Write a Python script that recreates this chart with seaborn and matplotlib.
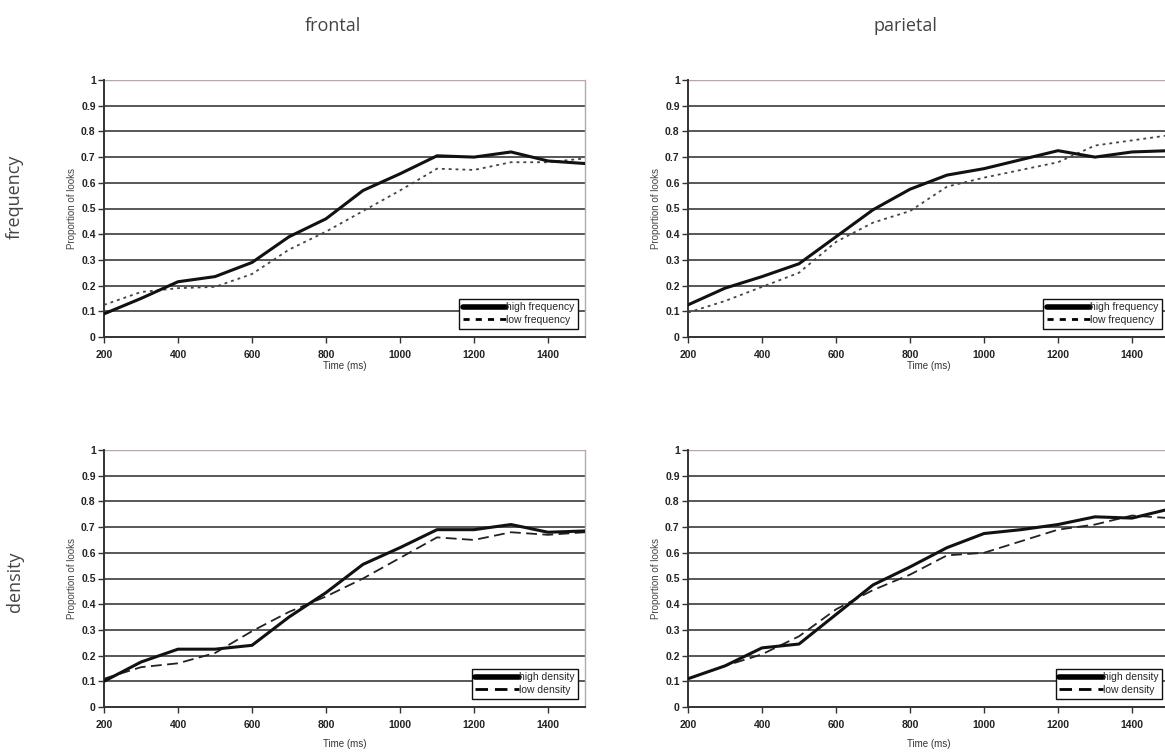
import numpy as np
import pandas as pd
import matplotlib
matplotlib.use("Agg")
import matplotlib.pyplot as plt
import seaborn as sns
from matplotlib.lines import Line2D

time_ms = [200, 300, 400, 500, 600, 700, 800, 900, 1000, 1100, 1200, 1300, 1400, 1500]

frontal_high_freq = [0.09, 0.15, 0.215, 0.235, 0.29, 0.39, 0.46, 0.57, 0.635, 0.705, 0.70, 0.72, 0.685, 0.675]
frontal_low_freq = [0.125, 0.175, 0.19, 0.195, 0.245, 0.34, 0.41, 0.49, 0.57, 0.655, 0.65, 0.68, 0.68, 0.695]
parietal_high_freq = [0.125, 0.19, 0.235, 0.285, 0.39, 0.495, 0.575, 0.63, 0.655, 0.69, 0.725, 0.70, 0.72, 0.725]
parietal_low_freq = [0.095, 0.14, 0.195, 0.25, 0.37, 0.445, 0.49, 0.585, 0.62, 0.65, 0.68, 0.745, 0.765, 0.785]
frontal_high_dens = [0.10, 0.175, 0.225, 0.225, 0.24, 0.35, 0.445, 0.555, 0.62, 0.69, 0.69, 0.71, 0.68, 0.685]
frontal_low_dens = [0.11, 0.155, 0.17, 0.21, 0.295, 0.37, 0.43, 0.50, 0.58, 0.66, 0.65, 0.68, 0.67, 0.68]
parietal_high_dens = [0.11, 0.16, 0.23, 0.245, 0.36, 0.475, 0.545, 0.62, 0.675, 0.69, 0.71, 0.74, 0.735, 0.77]
parietal_low_dens = [0.11, 0.16, 0.205, 0.275, 0.38, 0.455, 0.515, 0.59, 0.60, 0.645, 0.69, 0.71, 0.745, 0.735]

col_titles = ["frontal", "parietal"]
row_titles = ["frequency", "density"]
legend_labels = [["high frequency", "low frequency"], ["high density", "low density"]]
x_ticks = [200, 400, 600, 800, 1000, 1200, 1400]
y_ticks = [0, 0.1, 0.2, 0.3, 0.4, 0.5, 0.6, 0.7, 0.8, 0.9, 1]
y_tick_labels = ["0", "0.1", "0.2", "0.3", "0.4", "0.5", "0.6", "0.7", "0.8", "0.9", "1"]

sns.set_style("white")
plt.rcParams['font.family'] = ['Liberation Sans', 'DejaVu Sans']

W, H = 1165, 756
fig = plt.figure(figsize=(W / 100, H / 100), dpi=100)

def box(left, top, right, bottom):
    return [left / W, 1 - bottom / H, (right - left) / W, (bottom - top) / H]

axes_px = {
    (0, 0): (104, 80, 585, 337),
    (0, 1): (688, 80, 1169, 337),
    (1, 0): (104, 450, 585, 707),
    (1, 1): (688, 450, 1169, 707),
}

data = {
    (0, 0): (frontal_high_freq, frontal_low_freq),
    (0, 1): (parietal_high_freq, parietal_low_freq),
    (1, 0): (frontal_high_dens, frontal_low_dens),
    (1, 1): (parietal_high_dens, parietal_low_dens),
}

low_styles = [(0, (1.6, 2.2)), (0, (6, 3))]
low_colors = ["#444444", "#222222"]
low_widths = [1.3, 1.3]
leg_low_styles = [(0, (2.2, 2.2)), (0, (4.5, 2.5))]
xlabel_pads = [1, 7]

narrow = ['Liberation Sans Narrow', 'Liberation Sans', 'DejaVu Sans']

for (r, c), px in axes_px.items():
    ax = fig.add_axes(box(*px))
    high, low = data[(r, c)]
    df = pd.DataFrame({"Time (ms)": time_ms, "high": high, "low": low})
    sns.lineplot(data=df, x="Time (ms)", y="high", ax=ax, color="#111111",
                 linewidth=2.2, zorder=4)
    sns.lineplot(data=df, x="Time (ms)", y="low", ax=ax, color=low_colors[r],
                 linewidth=low_widths[r], linestyle=low_styles[r], zorder=3)
    ax.set_xlim(200, 1500)
    ax.set_ylim(0, 1)
    for yv in y_ticks[1:-1]:
        ax.axhline(yv, color="#2a2a2a", linewidth=1.1, zorder=1)
    ax.axhline(1, color="#b8a8a8", linewidth=1.0, zorder=1)
    ax.set_yticks(y_ticks)
    ax.set_yticklabels(y_tick_labels)
    ax.set_xticks(x_ticks)
    ax.set_xticklabels([str(t) for t in x_ticks])
    ax.tick_params(axis="both", direction="out", length=4, width=1.0,
                   color="#333333", labelsize=7.5, pad=2, left=True, bottom=True)
    for lab in ax.get_xticklabels() + ax.get_yticklabels():
        lab.set_fontweight("bold")
        lab.set_color("#222222")
    ax.tick_params(axis="x", pad=5)
    for s in ["left", "bottom"]:
        ax.spines[s].set_color("#333333")
        ax.spines[s].set_linewidth(1.4)
    ax.spines["top"].set_visible(False)
    ax.spines["right"].set_color("#b8a8a8")
    ax.spines["right"].set_linewidth(1.0)
    ax.set_ylabel("Proportion of looks", fontsize=7, color="#444444", labelpad=3)
    ax.set_xlabel("Time (ms)", fontsize=7, color="#333333", labelpad=xlabel_pads[r])

    handles = [
        Line2D([0], [0], color="#000000", linewidth=4.0),
        Line2D([0], [0], color="#000000", linewidth=2.0, linestyle=leg_low_styles[r]),
    ]
    leg = ax.legend(handles, legend_labels[r], loc="lower right",
                    bbox_to_anchor=(0.997, 0.012), frameon=True, fancybox=False,
                    edgecolor="#111111", framealpha=1.0, handlelength=4.2,
                    handletextpad=0.0, borderpad=0.35, labelspacing=0.25,
                    prop={'family': narrow, 'size': 7.5})
    leg.get_frame().set_linewidth(1.0)
    leg.set_zorder(10)

title_font = ['Liberation Sans Narrow', 'Open Sans', 'DejaVu Sans']
fig.text(333 / W, 1 - 26 / H, col_titles[0], ha="center", va="center",
         fontsize=13, color="#444444", family=title_font)
fig.text(905 / W, 1 - 26 / H, col_titles[1], ha="center", va="center",
         fontsize=13, color="#444444", family=title_font)
fig.text(15 / W, 1 - 197 / H, row_titles[0], ha="center", va="center",
         rotation=90, fontsize=13, color="#444444", family=title_font)
fig.text(15 / W, 1 - 582 / H, row_titles[1], ha="center", va="center",
         rotation=90, fontsize=13, color="#444444", family=title_font)

fig.savefig("out.png", dpi=100)
